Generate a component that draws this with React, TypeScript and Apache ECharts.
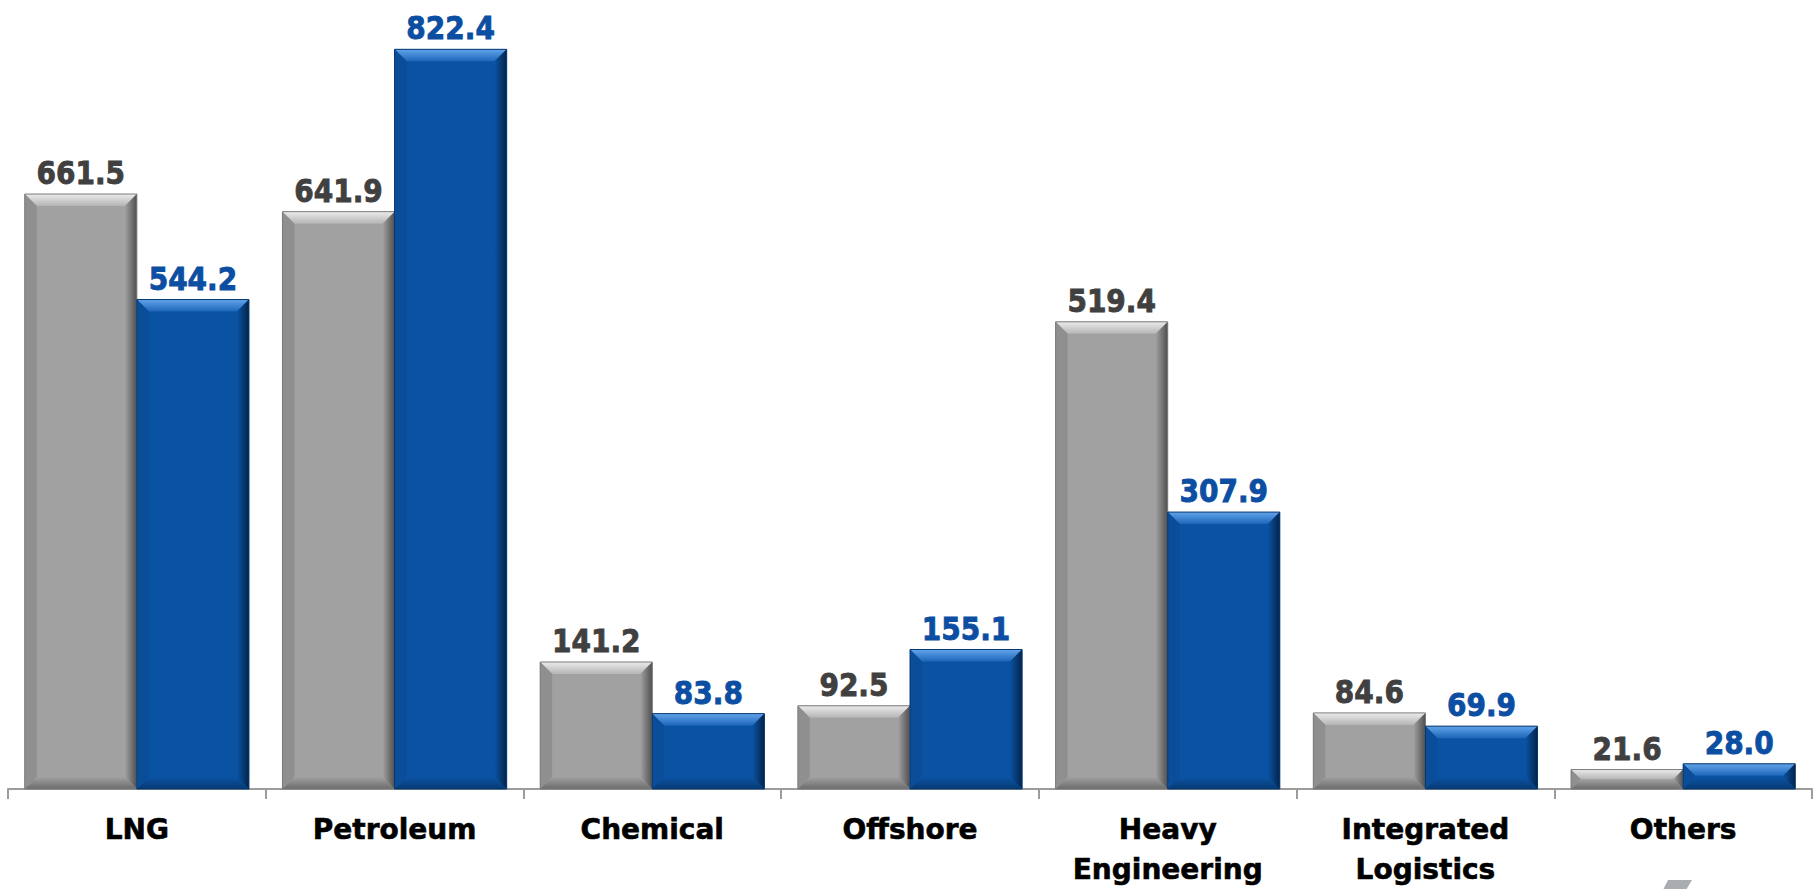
import React, { useEffect, useRef } from "react";
import * as echarts from "echarts";

// Revenue by business segment, previous vs current period
const categories = [
  "LNG",
  "Petroleum",
  "Chemical",
  "Offshore",
  "Heavy\nEngineering",
  "Integrated\nLogistics",
  "Others",
];
const previousValues = [661.5, 641.9, 141.2, 92.5, 519.4, 84.6, 21.6];
const currentValues = [544.2, 822.4, 83.8, 155.1, 307.9, 69.9, 28.0];

const FONT = '"DejaVu Sans", "Liberation Sans", sans-serif';
const BAR_RATIO = 0.435; // each bar's share of a category slot
const BEVEL = 12;

type Palette = {
  face: string;
  topA: string;
  topB: string;
  left: string;
  right: string;
  bottom: string;
  edge: string;
  label: string;
};

const grayPalette: Palette = {
  face: "#a1a1a1",
  topA: "#ececec",
  topB: "#b4b4b4",
  left: "#8f8f8f",
  right: "#4f4f4f",
  bottom: "#6c6c6c",
  edge: "#7a7a7a",
  label: "#404040",
};

const bluePalette: Palette = {
  face: "#0a53a3",
  topA: "#63a4ea",
  topB: "#1c66b9",
  left: "#0b4d98",
  right: "#04234a",
  bottom: "#073a73",
  edge: "#06386f",
  label: "#0b4ea2",
};

function bevelSeries(name: string, values: number[], pal: Palette, side: number) {
  return {
    name,
    type: "custom",
    data: values.map((v, i) => [i, v]),
    renderItem: (_params: any, api: any) => {
      const cat = api.value(0);
      const val = api.value(1);
      const base = api.coord([cat, 0]);
      const top = api.coord([cat, val]);
      const catW = api.size([1, 0])[0];
      const w = catW * BAR_RATIO;
      const x0 = side === 0 ? base[0] - w : base[0];
      const x1 = x0 + w;
      const y0 = top[1];
      const y1 = base[1];
      const h = y1 - y0;
      const b = Math.min(BEVEL, h / 2, w / 2);
      const ix0 = x0 + b;
      const ix1 = x1 - b;
      const iy0 = y0 + b;
      const iy1 = y1 - b;
      return {
        type: "group",
        children: [
          { type: "rect", shape: { x: x0, y: y0, width: w, height: h }, style: { fill: pal.face } },
          {
            type: "polygon",
            shape: { points: [[x0, y0], [x1, y0], [ix1, iy0], [ix0, iy0]] },
            style: {
              fill: new echarts.graphic.LinearGradient(0, 0, 0, 1, [
                { offset: 0, color: pal.topA },
                { offset: 1, color: pal.topB },
              ]),
            },
          },
          {
            type: "polygon",
            shape: { points: [[x0, y0], [ix0, iy0], [ix0, iy1], [x0, y1]] },
            style: { fill: pal.left },
          },
          {
            type: "polygon",
            shape: { points: [[x1, y0], [x1, y1], [ix1, iy1], [ix1, iy0]] },
            style: {
              fill: new echarts.graphic.LinearGradient(0, 0, 1, 0, [
                { offset: 0, color: pal.face },
                { offset: 1, color: pal.right },
              ]),
            },
          },
          {
            type: "polygon",
            shape: { points: [[x0, y1], [ix0, iy1], [ix1, iy1], [x1, y1]] },
            style: {
              fill: new echarts.graphic.LinearGradient(0, 0, 0, 1, [
                { offset: 0, color: pal.face },
                { offset: 1, color: pal.bottom },
              ]),
            },
          },
          {
            type: "rect",
            shape: { x: x0, y: y0, width: w, height: h },
            style: { fill: "none", stroke: pal.edge, lineWidth: 1 },
          },
          {
            // value label, stretched a little vertically for taller digits
            type: "text",
            x: (x0 + x1) / 2,
            y: y0 - 21,
            scaleX: 1,
            scaleY: 1.13,
            style: {
              text: val.toFixed(1),
              x: 0,
              y: 0,
              align: "center",
              verticalAlign: "middle",
              fill: pal.label,
              stroke: pal.label,
              lineWidth: 0.8,
              font: `bold 28px ${FONT}`,
            },
          },
        ],
      };
    },
  };
}

export default function App() {
  const ref = useRef<HTMLDivElement>(null);

  useEffect(() => {
    if (!ref.current) return;
    const chart = echarts.init(ref.current, null, { renderer: "svg" });
    chart.setOption({
      animation: false,
      backgroundColor: "#ffffff",
      grid: { left: 8, right: 8, top: 11, bottom: 97, containLabel: false },
      xAxis: {
        type: "category",
        data: categories,
        boundaryGap: true,
        axisLine: { show: true, lineStyle: { color: "#9c9c9c", width: 2 } },
        axisTick: { show: true, length: 10, lineStyle: { color: "#9c9c9c", width: 2 } },
        axisLabel: {
          interval: 0,
          margin: 20,
          color: "#000000",
          fontFamily: FONT,
          fontWeight: "bold",
          fontSize: 28,
          lineHeight: 40,
          textBorderColor: "#000000",
          textBorderWidth: 0.6,
        },
        splitLine: { show: false },
      },
      yAxis: {
        type: "value",
        min: 0,
        max: 865,
        show: false,
        splitLine: { show: false },
      },
      graphic: [
        {
          type: "polygon",
          shape: { points: [[1668, 880], [1692, 880], [1686, 890], [1663, 890]] },
          style: { fill: "#a9adb1" },
        },
      ],
      series: [
        bevelSeries("Previous", previousValues, grayPalette, 0),
        bevelSeries("Current", currentValues, bluePalette, 1),
      ],
    });
    return () => chart.dispose();
  }, []);

  return (
    <div
      ref={ref}
      style={{ position: "fixed", left: 0, top: 0, width: 1820, height: 889, background: "#ffffff" }}
    />
  );
}
